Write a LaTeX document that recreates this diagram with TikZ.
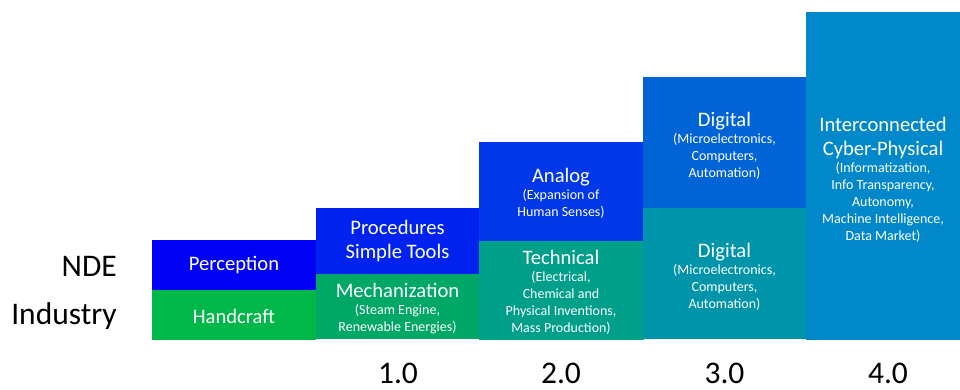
\documentclass[tikz,border=0pt]{standalone}
\usepackage{fontspec}
\setmainfont{Carlito}
\usetikzlibrary{calc}
\definecolor{ndeA}{RGB}{0,0,245}
\definecolor{ndeB}{RGB}{0,34,238}
\definecolor{ndeC}{RGB}{0,55,230}
\definecolor{ndeD}{RGB}{0,100,215}
\definecolor{indA}{RGB}{0,183,74}
\definecolor{indB}{RGB}{0,168,104}
\definecolor{indC}{RGB}{0,159,138}
\definecolor{indD}{RGB}{0,148,170}
\definecolor{cps}{RGB}{0,136,202}
\newcommand{\ttl}{\fontsize{20.6}{24.5}\selectfont}
\newcommand{\sml}{\fontsize{14}{17}\selectfont}
\tikzset{
	blocktxt/.style={text=white, align=center, inner sep=0pt, font=\sml},
	rowtxt/.style={anchor=east, inner sep=0pt, font=\fontsize{31.5}{36}\selectfont},
	yeartxt/.style={inner sep=0pt, font=\fontsize{31.5}{36}\selectfont}
}

\begin{document}
\begin{tikzpicture}[x=1pt, y=-1pt]
			%%%%% START %%%%%
			\useasboundingbox (0, 0) rectangle (960, 390);
			
			\fill[ndeA] (152, 240) rectangle (316, 290);
			\fill[indA] (152, 290) rectangle (316, 340);
			
			\fill[ndeB] (316, 208) rectangle (479.5, 274);
			\fill[indB] (316, 274) rectangle (479.5, 339);
			
			\fill[ndeC] (479, 142) rectangle (643.5, 241);
			\fill[indC] (479, 241) rectangle (643.5, 340);
			
			\fill[ndeD] (643, 77) rectangle (806.5, 208);
			\fill[indD] (643, 208) rectangle (806.5, 339);
			
			\fill[cps] (806, 12) rectangle (960, 340);
			
			\node[rowtxt] (nde) at (117, 266) {NDE};
			\node[rowtxt] (industry) at (117, 316) {Industry};
			
			\node[blocktxt] (perception) at (234, 265) {\ttl Perception};
			\node[blocktxt] (handcraft) at (234, 316) {\ttl Handcraft};
			
			\node[blocktxt] (procedures) at (397.5, 241) {\ttl Procedures\\[7.5pt]\ttl Simple Tools};
			\node[blocktxt] (mechanization) at (397.5, 309) {\ttl Mechanization\\(Steam Engine,\\Renewable Energies)};
			
			\node[blocktxt] (analog) at (561, 193) {\ttl Analog\\(Expansion of\\Human Senses)};
			\node[blocktxt] (technical) at (561, 292) {\ttl Technical\\(Electrical,\\Chemical and\\Physical Inventions,\\Mass Production)};
			
			\node[blocktxt] (digitalnde) at (724.5, 146) {\ttl Digital\\(Microelectronics,\\Computers,\\Automation)};
			\node[blocktxt] (digitalind) at (724.5, 277) {\ttl Digital\\(Microelectronics,\\Computers,\\Automation)};
			
			\node[blocktxt] (cyber) at (883, 180) {\ttl Interconnected\\[7.5pt]\ttl Cyber-Physical\\(Informatization,\\Info Transparency,\\Autonomy,\\Machine Intelligence,\\Data Market)};
			
			\node[yeartxt] (one) at (398, 373) {1.0};
			\node[yeartxt] (two) at (561, 373) {2.0};
			\node[yeartxt] (three) at (724.5, 373) {3.0};
			\node[yeartxt] (four) at (888, 373) {4.0};
			
			%%%%% END %%%%%
\end{tikzpicture}
\end{document}
